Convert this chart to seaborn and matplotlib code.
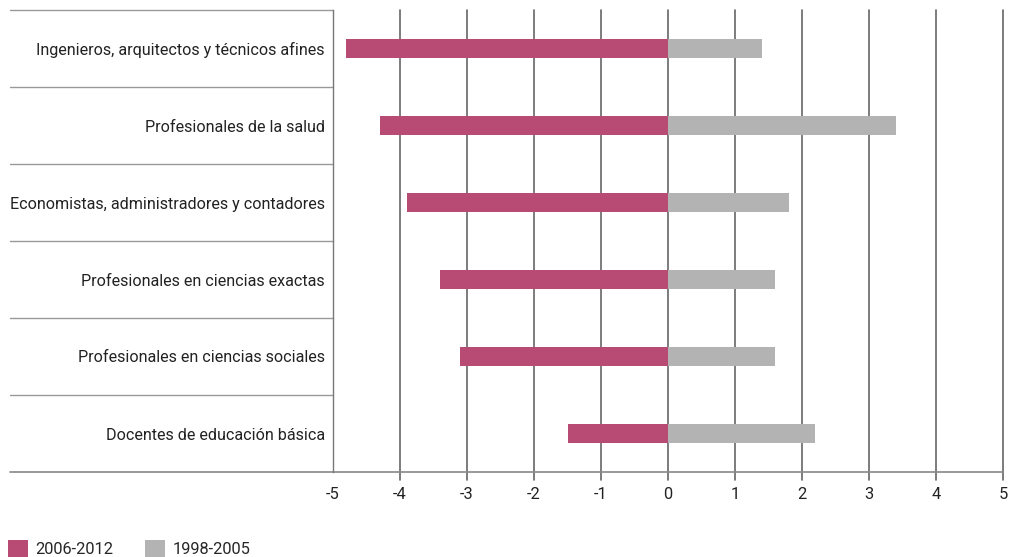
import matplotlib
matplotlib.use("Agg")
import matplotlib.pyplot as plt
import seaborn as sns
import pandas as pd
from matplotlib.patches import Patch

categories = [
    "Ingenieros, arquitectos y técnicos afines",
    "Profesionales de la salud",
    "Economistas, administradores y contadores",
    "Profesionales en ciencias exactas",
    "Profesionales en ciencias sociales",
    "Docentes de educación básica",
]
series_names = ["2006-2012", "1998-2005"]
values_2006_2012 = [-4.8, -4.3, -3.9, -3.4, -3.1, -1.5]
values_1998_2005 = [1.4, 3.4, 1.8, 1.6, 1.6, 2.2]
x_ticks = [-5, -4, -3, -2, -1, 0, 1, 2, 3, 4, 5]

colors = {"2006-2012": "#b84b73", "1998-2005": "#b3b3b3"}

df = pd.DataFrame({
    "cat": categories * 2,
    "serie": [series_names[0]] * len(categories) + [series_names[1]] * len(categories),
    "val": values_2006_2012 + values_1998_2005,
})

sns.set_theme(style="white")
plt.rcParams["font.family"] = ["Roboto", "DejaVu Sans"]
plt.rcParams["axes.unicode_minus"] = False

fig = plt.figure(figsize=(10.09, 5.57), dpi=100)
ax = fig.add_axes([333 / 1009, 1 - 472 / 557, 670 / 1009, 462 / 557])

sns.barplot(data=df, y="cat", x="val", hue="serie", order=categories,
            hue_order=series_names, palette=colors, dodge=False, width=0.25,
            orient="h", ax=ax, legend=False, saturation=1, linewidth=0)

ax.set_xlim(-5, 5)
ax.set_ylim(len(categories) - 0.5, -0.5)
ax.set_xticks(x_ticks)
ax.set_xticklabels([str(t) for t in x_ticks], fontsize=11.8, color="#222222")
ax.set_xlabel("")
ax.set_ylabel("")
ax.tick_params(axis="y", length=0, pad=6, labelsize=11.6, labelcolor="#222222")
ax.tick_params(axis="x", length=0, pad=11)

for s in ["top", "right", "bottom"]:
    ax.spines[s].set_visible(False)
ax.spines["left"].set_color("#777777")
ax.spines["left"].set_linewidth(1.0)

# vertical grid lines with small ticks below
for t in x_ticks:
    if t == -5:
        continue
    ax.plot([t, t], [-0.5, len(categories) - 0.5 + 0.11], color="#666666",
            lw=1.2, clip_on=False, zorder=0.5)

# horizontal separators in the label area
xt = ax.get_yaxis_transform()
left_frac = (10 - 333) / 670
for k in range(len(categories)):
    ax.plot([left_frac, 0], [k - 0.5, k - 0.5], transform=xt, color="#999999",
            lw=1.0, clip_on=False)
ax.plot([left_frac, 1], [len(categories) - 0.5] * 2, transform=xt,
        color="#888888", lw=1.2, clip_on=False)

handles = [Patch(facecolor=colors[s], edgecolor="none", label=s) for s in series_names]
fig.legend(handles=handles, loc="lower left", bbox_to_anchor=(-0.002, -0.018),
           ncol=2, frameon=False, fontsize=11.8, handlelength=1.25, handleheight=1.25,
           handletextpad=0.45, columnspacing=1.9, borderaxespad=0.2)

fig.savefig("out.png", dpi=100)
